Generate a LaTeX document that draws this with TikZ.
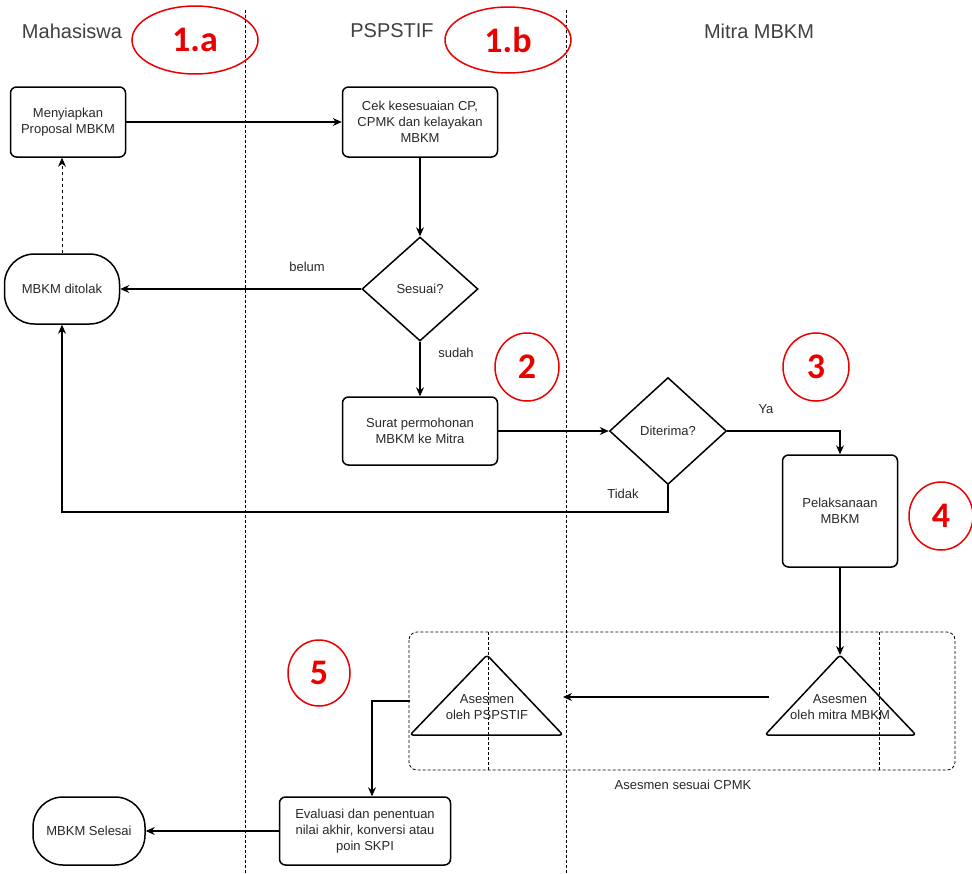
\documentclass[tikz,border=0pt]{standalone}
\usepackage{fontspec}
\setmainfont{Liberation Sans}
\newfontfamily\numfont{Carlito}
\usetikzlibrary{shapes.geometric,arrows.meta}
\definecolor{txt}{RGB}{40,40,40}
\definecolor{redc}{RGB}{235,0,0}
\begin{document}
\begin{tikzpicture}[x=1pt,y=-1pt,
  every node/.style={text=txt},
  box/.style={draw=black,line width=1.5pt,rounded corners=6pt,inner sep=0pt,align=center,font=\fontsize{13}{16}\selectfont},
  pill/.style={draw=black,line width=1.5pt,rounded corners=30pt,inner sep=0pt,align=center,font=\fontsize{13}{16}\selectfont},
  dia/.style={draw=black,line width=1.5pt,diamond,inner sep=0pt,align=center,font=\fontsize{13}{16}\selectfont},
  lbl/.style={font=\fontsize{13}{16}\selectfont,inner sep=0pt},
  head/.style={font=\fontsize{20}{22}\selectfont,inner sep=0pt,text=black!75},
  num/.style={draw=redc,line width=1.5pt,ellipse,inner sep=0pt,text=redc,font=\numfont\bfseries\fontsize{36}{36}\selectfont},
  conn/.style={draw=black,line width=1.1pt,-{Stealth[length=9pt,width=8pt]}},
  lane/.style={draw=black,line width=0.7pt,dash pattern=on 3pt off 2pt},
  grp/.style={draw=black,line width=0.8pt,dash pattern=on 3pt off 2pt}
]
\useasboundingbox (0,0) rectangle (972,873);
\fill[white] (0,0) rectangle (972,873);
% lanes
\coordinate (l1t) at (245,10); \coordinate (l1b) at (245,873);
\coordinate (l2t) at (566,10); \coordinate (l2b) at (566,873);
\draw[lane] (l1t) -- (l1b);
\draw[lane] (l2t) -- (l2b);
% headers
\node[head] (h1) at (72,31) {Mahasiswa};
\node[head] (h2) at (392,31) {PSPSTIF};
\node[head] (h3) at (759,31) {Mitra MBKM};
% red numbers
\node[num,minimum width=126pt,minimum height=68pt] (n1a) at (195,40) {1.a};
\node[num,minimum width=126pt,minimum height=66pt] (n1b) at (508,40) {1.b};
\node[num,minimum width=64pt,minimum height=68pt] (n2) at (527,367) {2};
\node[num,minimum width=66pt,minimum height=68pt] (n3) at (816,367) {3};
\node[num,minimum width=64pt,minimum height=68pt] (n4) at (941,516) {4};
\node[num,minimum width=62pt,minimum height=66pt] (n5) at (319,673) {5};
% group
\draw[grp,rounded corners=8pt] (409,632) rectangle (955,770);
\coordinate (g1t) at (488,632); \coordinate (g1b) at (488,770);
\coordinate (g2t) at (879,632); \coordinate (g2b) at (879,770);
\draw[grp] (g1t) -- (g1b);
\draw[grp] (g2t) -- (g2b);
\node[lbl] (grplbl) at (683,785) {Asesmen sesuai CPMK};
% nodes
\node[box,minimum width=115pt,minimum height=70pt] (prop) at (68,122) {Menyiapkan\\Proposal MBKM};
\node[box,minimum width=155pt,minimum height=70pt] (cek) at (420,122) {Cek kesesuaian CP,\\CPMK dan kelayakan\\MBKM};
\node[dia,minimum width=116pt,minimum height=104pt] (ses) at (420,289) {Sesuai?};
\node[pill,minimum width=115pt,minimum height=70pt] (tolak) at (62,289) {MBKM ditolak};
\node[box,minimum width=155pt,minimum height=68pt] (surat) at (420,431) {Surat permohonan\\MBKM ke Mitra};
\node[dia,minimum width=117pt,minimum height=107pt] (terima) at (668,431) {Diterima?};
\node[box,minimum width=115pt,minimum height=112pt] (laks) at (840,511) {Pelaksanaan\\MBKM};
\node[box,minimum width=171pt,minimum height=68pt] (eval) at (365,831) {Evaluasi dan penentuan\\nilai akhir, konversi atau\\poin SKPI};
\node[pill,minimum width=112pt,minimum height=68pt] (selesai) at (89,831) {MBKM Selesai};
% triangles
\coordinate (t1a) at (487,655); \coordinate (t1l) at (410,735); \coordinate (t1r) at (563,735);
\draw[line width=1.5pt,line join=round,rounded corners=3pt] (t1a) -- (t1r) -- (t1l) -- cycle;
\node[lbl,align=center] (t1txt) at (487,707) {Asesmen\\oleh PSPSTIF};
\coordinate (t2a) at (840,655); \coordinate (t2l) at (765,735); \coordinate (t2r) at (916,735);
\draw[line width=1.5pt,line join=round,rounded corners=3pt] (t2a) -- (t2r) -- (t2l) -- cycle;
\node[lbl,align=center] (t2txt) at (840,707) {Asesmen\\oleh mitra MBKM};
\coordinate (t1in) at (563,697);
\coordinate (t2out) at (769,697);
\coordinate (t1out) at (410,701);
% connectors
\draw[conn] (prop.east) -- (cek.west);
\draw[conn] (cek.south) -- (ses.north);
\draw[conn] (ses.west) -- (tolak.east);
\node[lbl] (belum) at (307,267) {belum};
\draw[conn] (ses.south) -- (surat.north);
\node[lbl] (sudah) at (456,353) {sudah};
\draw[conn,line width=0.9pt,dash pattern=on 3pt off 3pt] (tolak.north) -- (tolak.north |- prop.south);
\draw[conn] (surat.east) -- (terima.west);
\draw[conn] (terima.east) -| (laks.north);
\node[lbl] (ya) at (766,409) {Ya};
\draw[conn] (terima.south) |- (62,512) -- (tolak.south);
\node[lbl] (tidak) at (623,494) {Tidak};
\draw[conn] (laks.south) -- (t2a);
\draw[conn] (t2out) -- (t1in);
\draw[conn] (t1out) -| (eval.north -| 372,0);
\draw[conn] (eval.west) -- (selesai.east);
\end{tikzpicture}
\end{document}
